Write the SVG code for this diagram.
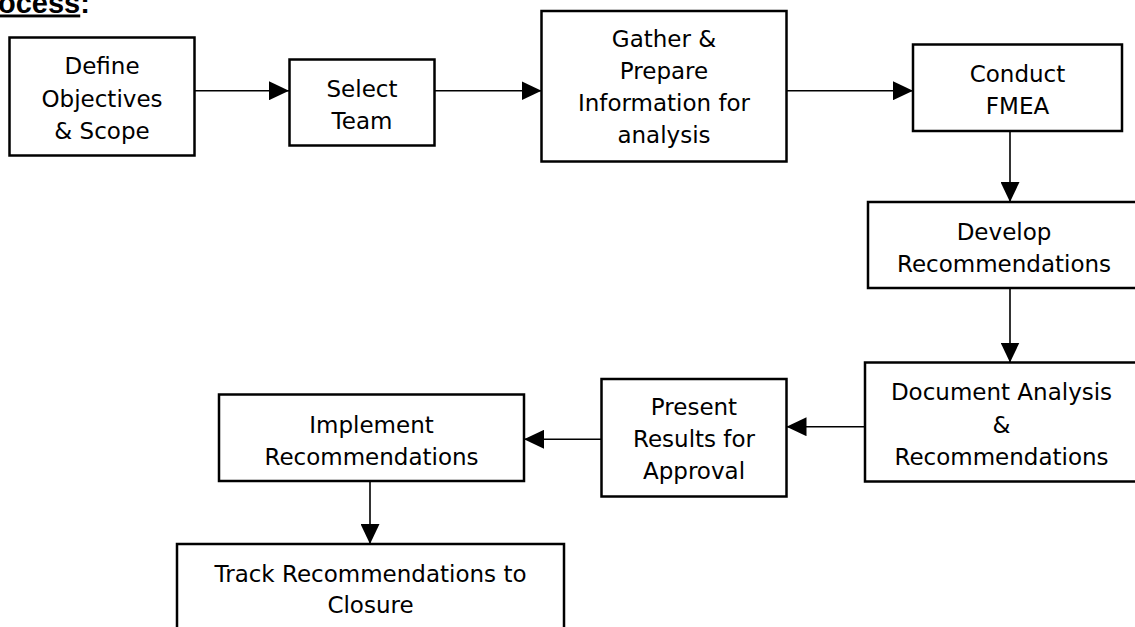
<svg xmlns="http://www.w3.org/2000/svg" width="1135" height="627" viewBox="0 0 1135 627">
  <style>
    .box { fill: #ffffff; stroke: #000000; stroke-width: 2.5; }
    .lbl { font-family: "DejaVu Sans", "Liberation Sans", sans-serif; font-size: 23px; fill: #000000; text-anchor: middle; }
    .conn { stroke: #000000; stroke-width: 1.6; fill: none; marker-end: url(#arrow); }
    .title { font-family: "Liberation Sans", Arial, sans-serif; font-size: 29px; font-weight: bold; fill: #000000; }
  </style>
  <defs>
    <marker id="arrow" markerUnits="userSpaceOnUse" markerWidth="20" markerHeight="19" refX="20" refY="9.5" orient="auto">
      <path d="M0,0 L20,9.5 L0,19 Z" fill="#000000"/>
    </marker>
  </defs>
  <rect width="1135" height="627" fill="#ffffff"/>

  <text class="title" x="-2" y="12.5"><tspan text-decoration="underline">ocess</tspan>:</text>

  <g id="connectors">
    <line class="conn" x1="194.5" y1="90.7" x2="289" y2="90.7"/>
    <line class="conn" x1="434.5" y1="90.7" x2="541.5" y2="90.7"/>
    <line class="conn" x1="786.5" y1="90.7" x2="913" y2="90.7"/>
    <line class="conn" x1="1010" y1="131" x2="1010" y2="202"/>
    <line class="conn" x1="1010" y1="288" x2="1010" y2="362.5"/>
    <line class="conn" x1="865" y1="426.7" x2="786.5" y2="426.7"/>
    <line class="conn" x1="601.5" y1="439.3" x2="524" y2="439.3"/>
    <line class="conn" x1="370" y1="477" x2="370" y2="544"/>
  </g>

  <g id="define">
    <rect class="box" x="9.5" y="37.5" width="185" height="118"/>
    <text class="lbl" x="102" y="74">Define<tspan x="102" dy="32.5">Objectives</tspan><tspan x="102" dy="32.5">&amp; Scope</tspan></text>
  </g>

  <g id="select">
    <rect class="box" x="289.5" y="59.5" width="145" height="86"/>
    <text class="lbl" x="362" y="96.7">Select<tspan x="362" dy="31.8">Team</tspan></text>
  </g>

  <g id="gather">
    <rect class="box" x="541.5" y="11" width="245" height="150.5"/>
    <text class="lbl" x="664" y="47.3">Gather &amp;<tspan x="664" dy="32">Prepare</tspan><tspan x="664" dy="32">Information for</tspan><tspan x="664" dy="32">analysis</tspan></text>
  </g>

  <g id="conduct">
    <rect class="box" x="913" y="44.5" width="209" height="86.5"/>
    <text class="lbl" x="1017.5" y="81.7">Conduct<tspan x="1017.5" dy="31.8">FMEA</tspan></text>
  </g>

  <g id="develop">
    <rect class="box" x="868" y="202" width="272" height="86"/>
    <text class="lbl" x="1004" y="240">Develop<tspan x="1004" dy="31.8">Recommendations</tspan></text>
  </g>

  <g id="document">
    <rect class="box" x="865" y="362.5" width="273" height="119"/>
    <text class="lbl" x="1001.5" y="400">Document Analysis<tspan x="1001.5" dy="32.5">&amp;</tspan><tspan x="1001.5" dy="32.5">Recommendations</tspan></text>
  </g>

  <g id="present">
    <rect class="box" x="601.5" y="379" width="185" height="117.5"/>
    <text class="lbl" x="694" y="415">Present<tspan x="694" dy="32">Results for</tspan><tspan x="694" dy="32">Approval</tspan></text>
  </g>

  <g id="implement">
    <rect class="box" x="219" y="394.5" width="305" height="86.5"/>
    <text class="lbl" x="371.5" y="432.7">Implement<tspan x="371.5" dy="32.3">Recommendations</tspan></text>
  </g>

  <g id="track">
    <rect class="box" x="177" y="544" width="387" height="100"/>
    <text class="lbl" x="370.5" y="581.5">Track Recommendations to<tspan x="370.5" dy="31.8">Closure</tspan></text>
  </g>
</svg>
